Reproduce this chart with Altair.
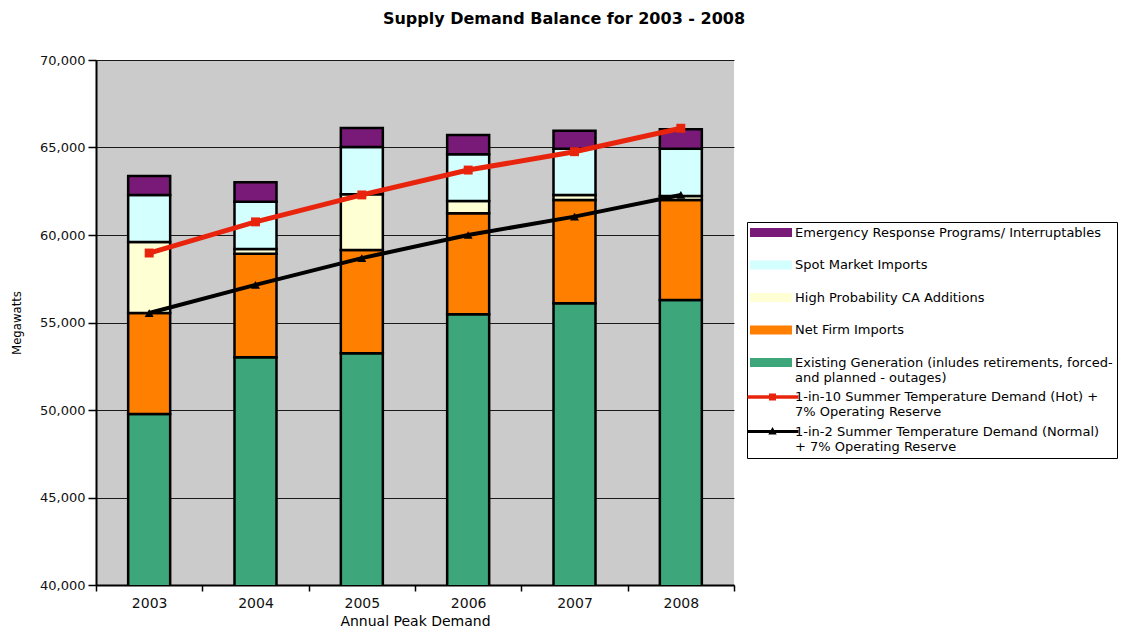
import altair as alt
import pandas as pd

years = ["2003", "2004", "2005", "2006", "2007", "2008"]

# stacked supply components (MW)
existing = [49770, 53010, 53240, 55470, 56100, 56290]
net_firm = [5780, 5920, 5900, 5770, 5900, 5710]
high_prob = [4050, 270, 3190, 700, 290, 230]
spot = [2690, 2700, 2700, 2670, 2640, 2700]
emergency = [1080, 1110, 1080, 1100, 1030, 1110]

# demand lines (MW)
hot_demand = [58970, 60750, 62290, 63710, 64760, 66100]
normal_demand = [55540, 57150, 58680, 60000, 61050, 62290]

S_EMER = "Emergency Response Programs/ Interruptables"
S_SPOT = "Spot Market Imports"
S_HIGH = "High Probability CA Additions"
S_NET = "Net Firm Imports"
S_EXIST = "Existing Generation (inludes retirements, forced-\nand planned - outages)"
S_HOT = "1-in-10 Summer Temperature Demand (Hot) +\n7% Operating Reserve"
S_NORM = "1-in-2 Summer Temperature Demand (Normal)\n+ 7% Operating Reserve"

series_order = [S_EMER, S_SPOT, S_HIGH, S_NET, S_EXIST, S_HOT, S_NORM]
series_colors = ["#7A1A78", "#D4FFFF", "#FFFFD4", "#FF7F00", "#3DA67A", "#E8250C", "#000000"]
outline_colors = ["#000000", "#000000", "#000000", "#000000", "#000000", "#E8250C", "#000000"]

stack_series = [S_EXIST, S_NET, S_HIGH, S_SPOT, S_EMER]
stack_values = [existing, net_firm, high_prob, spot, emergency]

bar_rows = []
for k, (name, vals) in enumerate(zip(stack_series, stack_values)):
    for y, v in zip(years, vals):
        bar_rows.append({"year": y, "series": name, "value": v, "ord": k})
bars_df = pd.DataFrame(bar_rows)

line_rows = []
for name, vals in [(S_HOT, hot_demand), (S_NORM, normal_demand)]:
    for y, v in zip(years, vals):
        line_rows.append({"year": y, "series": name, "value": v})
lines_df = pd.DataFrame(line_rows)

color_scale = alt.Scale(domain=series_order, range=series_colors)
outline_scale = alt.Scale(domain=series_order, range=outline_colors)

# legend symbol glyphs (unit = 5px); trailing moveTo points give every entry the same height
PAD = " M0,-1.2 M0,3.3"
sym_expr = (
    "indexof(datum.value, '1-in-10') == 0 ? "
    "'M-1.8,-0.15H8V0.15H-1.8Z M2.5,-0.5H3.5V0.5H2.5Z" + PAD + "' : "
    "indexof(datum.value, '1-in-2') == 0 ? "
    "'M-1.8,-0.1H8V0.1H-1.8Z M2.5,0.4L3,-0.5L3.5,0.4Z" + PAD + "' : "
    "'M-1.3,-0.7H6.7V0.7H-1.3Z" + PAD + "'"
)


def make_legend():
    return alt.Legend(
        title=None,
        orient="none",
        legendX=651,
        legendY=162,
        direction="vertical",
        symbolType=alt.ExprRef(sym_expr),
        symbolSize=100,
        symbolFillColor="white",
        labelOffset=31,
        labelFont="DejaVu Sans",
        labelFontSize=13,
        labelColor="black",
        labelLimit=500,
        labelExpr="split(datum.label, '\\n')",
        rowPadding=1.5,
        padding=4,
        strokeColor="black",
        fillColor="white",
    )


x_enc = alt.X(
    "year:N",
    title="Annual Peak Demand",
    scale=alt.Scale(paddingInner=0, paddingOuter=0),
    axis=alt.Axis(
        labelAngle=0,
        tickBand="extent",
        grid=False,
        tickSize=6,
        labelPadding=5,
        titlePadding=4,
        labelFont="DejaVu Sans",
        labelFontSize=14,
        titleFont="DejaVu Sans",
        titleFontSize=14,
        titleFontWeight="normal",
    ),
)

y_scale = alt.Scale(domain=[40000, 70000], nice=False, zero=False)

bars = (
    alt.Chart(bars_df)
    .mark_bar(size=42, strokeWidth=2.5, clip=True)
    .encode(
        x=x_enc,
        y=alt.Y(
            "value:Q",
            stack="zero",
            scale=y_scale,
            title="Megawatts",
            axis=alt.Axis(
                values=[40000, 45000, 50000, 55000, 60000, 65000, 70000],
                format=",d",
                tickSize=8,
                labelPadding=3,
                titlePadding=16,
                labelFont="DejaVu Sans",
                labelFontSize=13,
                titleFont="DejaVu Sans Condensed, Liberation Sans",
                titleFontSize=13,
                titleFontWeight="normal",
            ),
        ),
        color=alt.Color("series:N", scale=color_scale, legend=make_legend()),
        stroke=alt.Stroke("series:N", scale=outline_scale, legend=make_legend()),
        order=alt.Order("ord:Q", sort="ascending"),
    )
)

lines = (
    alt.Chart(lines_df)
    .mark_line(point=alt.OverlayMarkDef(filled=True, size=80, opacity=1))
    .encode(
        x=alt.X("year:N"),
        y=alt.Y("value:Q", scale=y_scale),
        color=alt.Color("series:N", scale=color_scale, legend=None),
        strokeWidth=alt.StrokeWidth(
            "series:N", scale=alt.Scale(domain=[S_HOT, S_NORM], range=[5, 4]), legend=None
        ),
        shape=alt.Shape(
            "series:N",
            scale=alt.Scale(domain=[S_HOT, S_NORM], range=["square", "triangle-up"]),
            legend=None,
        ),
    )
)

chart = (
    alt.layer(bars, lines)
    .properties(
        width=638,
        height=525,
        padding={"left": 2, "top": 3, "right": 0, "bottom": 0},
        title=alt.TitleParams(
            "Supply Demand Balance for 2003 - 2008",
            font="DejaVu Sans",
            fontSize=16,
            fontWeight="bold",
            anchor="middle",
            frame="bounds",
            offset=27,
            color="black",
        ),
    )
    .configure_view(fill="#CBCBCB", stroke=None)
    .configure_legend(symbolStrokeWidth=2)
    .configure_axis(
        domainColor="black",
        domainWidth=2,
        tickColor="black",
        tickWidth=1.5,
        gridColor="#1a1a1a",
        gridWidth=1,
        labelColor="#111",
        titleColor="black",
    )
    .configure_axisY(grid=True)
)

chart.save("out.html", embed_options={"renderer": "svg", "actions": False})
